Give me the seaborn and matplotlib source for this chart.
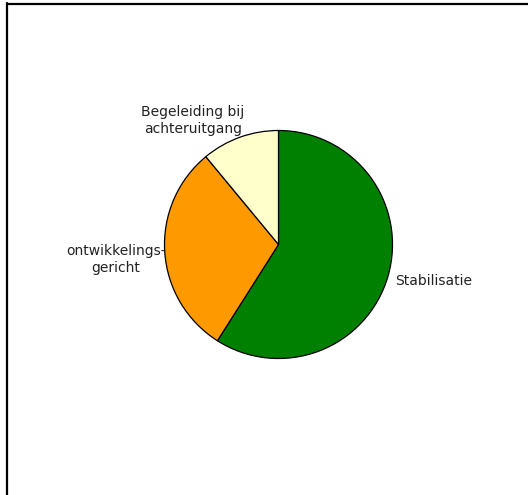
import matplotlib
matplotlib.use("Agg")
import matplotlib.pyplot as plt
from matplotlib.lines import Line2D
import seaborn as sns

categories = ["Stabilisatie", "ontwikkelings-\ngericht", "Begeleiding bij\nachteruitgang"]
values = [59, 30, 11]
colors = ["#008000", "#FF9900", "#FFFFCC"]

sns.set_theme(style="white")
plt.rcParams["font.family"] = ["DejaVu Sans"]

W, H = 528, 495
fig = plt.figure(figsize=(W / 100, H / 100), dpi=100)
fig.patch.set_facecolor("white")

cx, cy, r = 278.5, 244.5, 114.0
ax = fig.add_axes([(cx - r) / W, (H - cy - r) / H, 2 * r / W, 2 * r / H])
wedges, _ = ax.pie(values, colors=colors, startangle=90, counterclock=False,
                   wedgeprops=dict(edgecolor="black", linewidth=0.9))
ax.set_xlim(-1, 1)
ax.set_ylim(-1, 1)
ax.set_aspect("equal")
ax.axis("off")

label_pos = [(1.022, -0.32, "left"), (-1.425, -0.13, "center"), (-0.75, 1.088, "center")]
for (x, y, ha), lab in zip(label_pos, categories):
    ax.text(x, y, lab, ha=ha, va="center", fontsize=10, color="#222222",
            linespacing=1.25, multialignment="center")

# chart frame (left and top edges visible)
fig.add_artist(Line2D([6.5 / W, 6.5 / W], [0, 1 - 3 / H], transform=fig.transFigure,
                      color="black", linewidth=1.6))
fig.add_artist(Line2D([6.5 / W, 1], [1 - 3.5 / H, 1 - 3.5 / H], transform=fig.transFigure,
                      color="black", linewidth=1.6))

fig.savefig("out.png", dpi=100, facecolor="white")
